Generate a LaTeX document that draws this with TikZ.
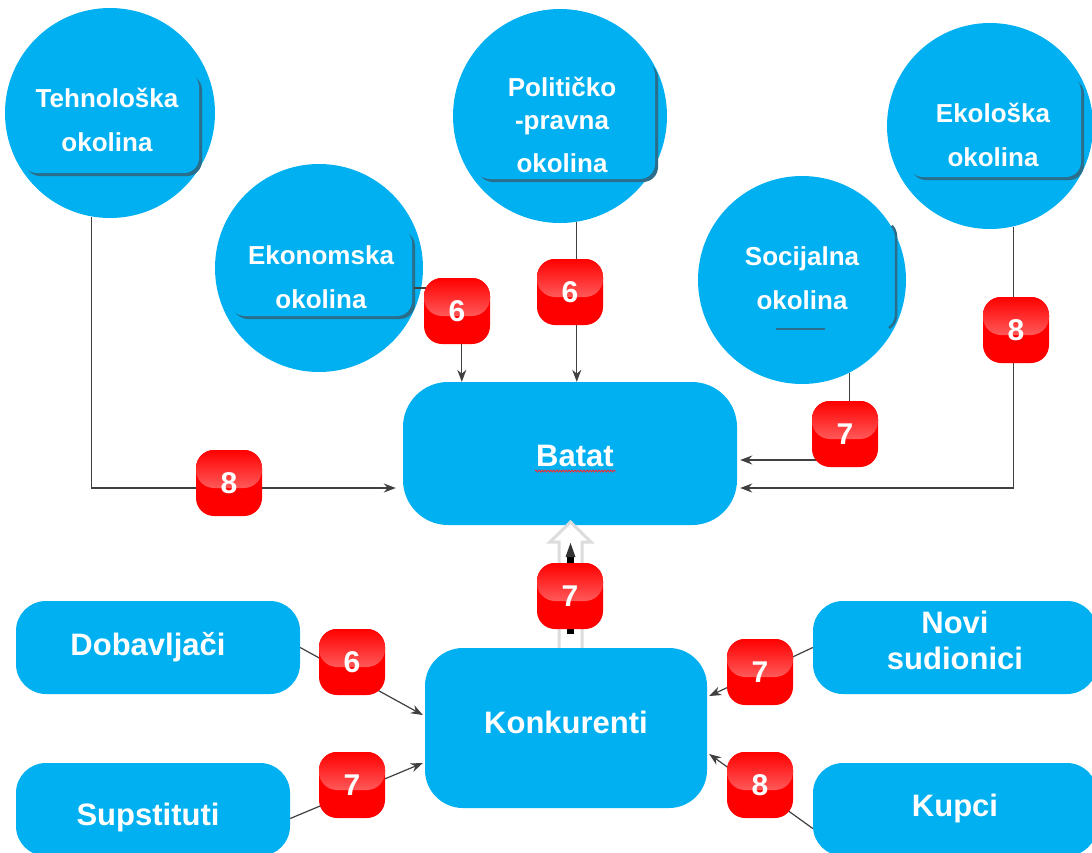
\documentclass[tikz,border=0pt]{standalone}
\usepackage{fontspec}
\setmainfont{Liberation Sans}
\usetikzlibrary{arrows.meta,calc,decorations.pathmorphing}
\definecolor{skyb}{HTML}{00B0F0}
\definecolor{shad}{HTML}{2B6E8C}
\definecolor{conn}{HTML}{404040}
\definecolor{gloss}{HTML}{FF9A9A}
\definecolor{arrowgray}{HTML}{DCDCDC}
\tikzset{
  circ/.style={circle, fill=skyb, inner sep=0pt, minimum size=#1},
  rbox/.style={rectangle, fill=skyb, inner sep=0pt},
  clabel/.style={text=white, font=\fontsize{26}{44}\selectfont\bfseries, align=center, inner sep=0pt},
  blabel/.style={text=white, font=\fontsize{31}{36}\selectfont\bfseries, align=center, inner sep=0pt},
  badge/.style={rectangle, rounded corners=18pt, fill=red, minimum size=66pt, inner sep=0pt,
    text=white, font=\fontsize{30}{30}\selectfont\bfseries,
    path picture={\shade[top color=red, bottom color=gloss]
      (path picture bounding box.north west) rectangle ([yshift=-5pt]path picture bounding box.east);}},
  link/.style={draw=conn, line width=1.2pt},
  linkarrow/.style={link, -{Stealth[length=12pt,width=9pt]}},
  innerbox/.style={fill=skyb, rounded corners=15pt},
  innershad/.style={fill=shad, rounded corners=15pt},
}
\begin{document}
\begin{tikzpicture}[x=1pt,y=-1pt]
\useasboundingbox (0,0) rectangle (1092,852);
\fill[white] (0,0) rectangle (1092,852);

% circles
\node[circ=210pt] (tehno) at (110,113) {};
\node[circ=214pt] (pol) at (560,116) {};
\node[circ=206pt] (eko) at (990,126) {};
\node[circ=208pt] (ekon) at (319,268) {};
\node[circ=208pt] (soc) at (802,280) {};

% inner text boxes with shadows
\fill[innershad] (25,75) rectangle (202,176);
\fill[innerbox] (22,72) rectangle (199,173);
\fill[innershad] (478,63) rectangle (658,182);
\fill[innerbox] (475,60) rectangle (655,179);
\fill[innershad] (911,79) rectangle (1084,180);
\fill[innerbox] (908,76) rectangle (1081,177);
\fill[innershad] (233,231) rectangle (415,319);
\fill[innerbox] (230,228) rectangle (412,316);
\draw[shad, line width=2.5pt, rounded corners=6pt] (892,226) -- (896,230) -- (896,322) -- (889,328);
\draw[shad, line width=2.5pt] (776,329) -- (825,329);

\node[clabel] (tehnotxt) at (107,120) {Tehnološka\\okolina};
\node[clabel, font=\fontsize{26}{33}\selectfont\bfseries] (poltxt) at (562,125) {Političko\\-pravna\\[10pt]okolina};
\node[clabel] (ekotxt) at (993,135) {Ekološka\\okolina};
\node[clabel] (ekontxt) at (321,277) {Ekonomska\\okolina};
\node[clabel] (soctxt) at (802,278.5) {Socijalna\\okolina};

% Batat box
\node[rbox, rounded corners=45pt, minimum width=334pt, minimum height=143pt] (batat) at (570,453.5) {};
\node[blabel] (batattxt) at (575,456) {Batat};
\draw[red!85!white, line width=0.8pt, decorate, decoration={snake, amplitude=1pt, segment length=3pt}]
  ($(batattxt.south west)+(-1,4)$) -- ($(batattxt.south east)+(2,4)$);

% block arrow between Konkurenti and Batat
\draw[draw=arrowgray, line width=3pt, fill=white, line join=miter]
  (559,655) -- (559,542) -- (550,542) -- (570.5,522) -- (591,542) -- (582,542) -- (582,655) -- cycle;
\draw[black, line width=7pt] (570.5,634) -- (570.5,556);
\fill[black!80] (565.5,557) -- (570.5,543) -- (575.5,557) -- cycle;

% lower boxes
\node[rbox, rounded corners=38pt, minimum width=282pt, minimum height=160pt] (konk) at (566,728) {};
\node[blabel] (konktxt) at (566,722) {Konkurenti};
\node[rbox, rounded corners=30pt, minimum width=284pt, minimum height=93pt] (dob) at (158,647.5) {};
\node[blabel] (dobtxt) at (148,647) {Dobavljači};
\node[rbox, rounded corners=30pt, minimum width=274pt, minimum height=93pt] (sup) at (153,809.5) {};
\node[blabel] (suptxt) at (148,817) {Supstituti};
\node[rbox, rounded corners=30pt, minimum width=284pt, minimum height=93pt] (novi) at (955,647.5) {};
\node[blabel] (novitxt) at (955,640) {Novi\\sudionici};
\node[rbox, rounded corners=30pt, minimum width=284pt, minimum height=93pt] (kupci) at (955,809.5) {};
\node[blabel] (kupcitxt) at (955,808) {Kupci};

% connectors
\coordinate (ekstart) at (414,288);
\draw[linkarrow] (tehno.260) |- ($(batat.west)+(-7,34.5)$);
\draw[linkarrow] (ekstart) -| ($(batat.north west)+(59,0)$);
\draw[linkarrow] (pol.279) -- (pol.279 |- batat.north);
\draw[linkarrow] (soc.297.5) |- ($(batat.east)+(3,6.5)$);
\draw[linkarrow] (eko.283) |- ($(batat.east)+(3,34.5)$);
\draw[linkarrow] (dob.east) -- ($(konk.west)+(-2,-13)$);
\draw[linkarrow] ($(sup.east)+(0,9)$) -- ($(konk.west)+(-2,35)$);
\draw[linkarrow] (novi.west) -- ($(konk.east)+(2,-32)$);
\draw[linkarrow] ($(kupci.west)+(0,19)$) -- ($(konk.east)+(2,26)$);

% badges
\node[badge] (b1) at (457,311) {6};
\node[badge] (b2) at (570,292) {6};
\node[badge] (b3) at (1016,330) {8};
\node[badge] (b4) at (845,434) {7};
\node[badge] (b5) at (229,483) {8};
\node[badge] (b6) at (570,596) {7};
\node[badge] (b7) at (352,662) {6};
\node[badge] (b8) at (352,785) {7};
\node[badge] (b9) at (760,672) {7};
\node[badge] (b10) at (760,785) {8};
\end{tikzpicture}
\end{document}
